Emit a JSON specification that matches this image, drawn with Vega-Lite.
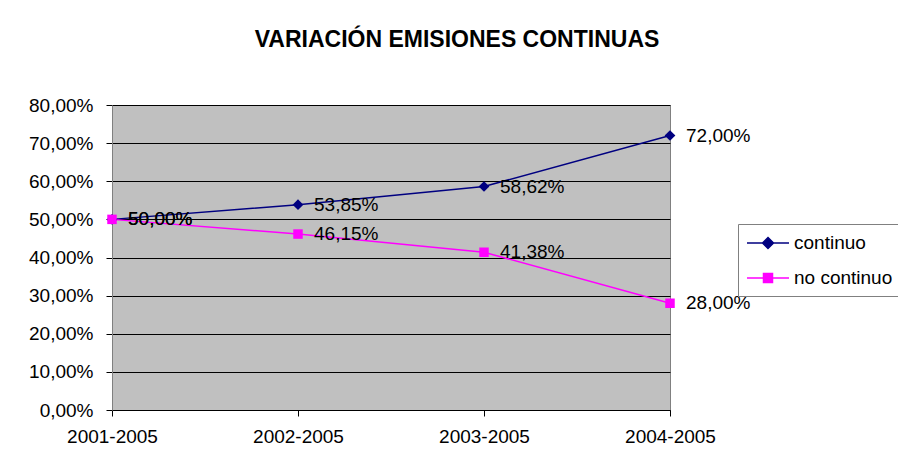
{
  "$schema": "https://vega.github.io/schema/vega-lite/v6.json",
  "width": 558,
  "height": 305,
  "autosize": "none",
  "padding": {"left": 112, "top": 105, "right": 228, "bottom": 62},
  "background": "white",
  "config": {
    "font": "Liberation Sans",
    "view": {"fill": "#C0C0C0", "stroke": "#808080", "strokeWidth": 1}
  },
  "title": {
    "text": "VARIACIÓN EMISIONES CONTINUAS",
    "font": "Liberation Sans",
    "fontSize": 23,
    "fontWeight": "bold",
    "color": "black",
    "anchor": "middle",
    "frame": "group",
    "dx": 66,
    "offset": 44
  },
  "data": {
    "values": [
      {"periodo": "2001-2005", "serie": "continuo", "valor": 0.5},
      {"periodo": "2002-2005", "serie": "continuo", "valor": 0.5385},
      {"periodo": "2003-2005", "serie": "continuo", "valor": 0.5862},
      {"periodo": "2004-2005", "serie": "continuo", "valor": 0.72},
      {"periodo": "2001-2005", "serie": "no continuo", "valor": 0.5},
      {"periodo": "2002-2005", "serie": "no continuo", "valor": 0.4615},
      {"periodo": "2003-2005", "serie": "no continuo", "valor": 0.4138},
      {"periodo": "2004-2005", "serie": "no continuo", "valor": 0.28}
    ]
  },
  "encoding": {
    "x": {
      "field": "periodo",
      "type": "ordinal",
      "scale": {"type": "point", "padding": 0},
      "axis": {
        "title": null,
        "labelAngle": 0,
        "labelFont": "Liberation Sans",
        "labelFontSize": 19,
        "labelColor": "black",
        "labelPadding": 11,
        "tickSize": 6,
        "tickColor": "black",
        "domainColor": "black",
        "grid": false
      }
    },
    "y": {
      "field": "valor",
      "type": "quantitative",
      "scale": {"domain": [0, 0.8], "nice": false},
      "axis": {
        "title": null,
        "values": [0, 0.1, 0.2, 0.3, 0.4, 0.5, 0.6, 0.7, 0.8],
        "labelExpr": "replace(format(datum.value, '.2%'), '.', ',')",
        "labelFont": "Liberation Sans",
        "labelFontSize": 19,
        "labelColor": "black",
        "labelPadding": 13,
        "tickSize": 6,
        "tickColor": "black",
        "domainColor": "#808080",
        "grid": true,
        "gridColor": "black",
        "gridOpacity": 1,
        "gridWidth": 1
      }
    },
    "color": {
      "field": "serie",
      "type": "nominal",
      "scale": {"domain": ["continuo", "no continuo"], "range": ["#000080", "#FF00FF"]},
      "legend": {
        "title": null,
        "orient": "none",
        "legendX": 626,
        "legendY": 119,
        "fillColor": "white",
        "strokeColor": "#808080",
        "padding": 8,
        "symbolType": "M-2.1,0L2.1,0M0,-0.55L0.55,0L0,0.55L-0.55,0Z",
        "symbolSize": 400,
        "symbolOffset": 11,
        "labelOffset": 15,
        "rowPadding": 14,
        "symbolStrokeWidth": 1.5,
        "labelFont": "Liberation Sans",
        "labelFontSize": 19,
        "labelColor": "black",
        "labelLimit": 300,
        "encode": {
          "symbols": {
            "update": {
              "shape": {"signal": "datum.value === 'continuo' ? 'M-2.1,0L2.1,0M0,-0.55L0.55,0L0,0.55L-0.55,0Z' : 'M-2.1,0L2.1,0M-0.45,-0.45L0.45,-0.45L0.45,0.45L-0.45,0.45Z'"},
              "fill": {"signal": "datum.value === 'continuo' ? '#000080' : '#FF00FF'"},
              "stroke": {"signal": "datum.value === 'continuo' ? '#000080' : '#FF00FF'"},
              "fillOpacity": {"value": 1},
              "strokeWidth": {"value": 1.5}
            }
          }
        }
      }
    }
  },
  "layer": [
    {
      "mark": {"type": "line", "strokeWidth": 1.5}
    },
    {
      "transform": [{"filter": "datum.serie === 'continuo'"}],
      "mark": {"type": "point", "filled": true, "opacity": 1, "shape": "diamond", "size": 115}
    },
    {
      "transform": [{"filter": "datum.serie === 'no continuo'"}],
      "mark": {"type": "point", "filled": true, "opacity": 1, "shape": "square", "size": 90}
    },
    {
      "mark": {"type": "text", "align": "left", "baseline": "middle", "dx": 16, "fontSize": 19, "font": "Liberation Sans", "color": "black"},
      "encoding": {
        "text": {"field": "etiqueta", "type": "nominal"},
        "color": {"value": "black"}
      },
      "transform": [
        {"calculate": "replace(format(datum.valor, '.2%'), '.', ',')", "as": "etiqueta"}
      ]
    }
  ]
}
